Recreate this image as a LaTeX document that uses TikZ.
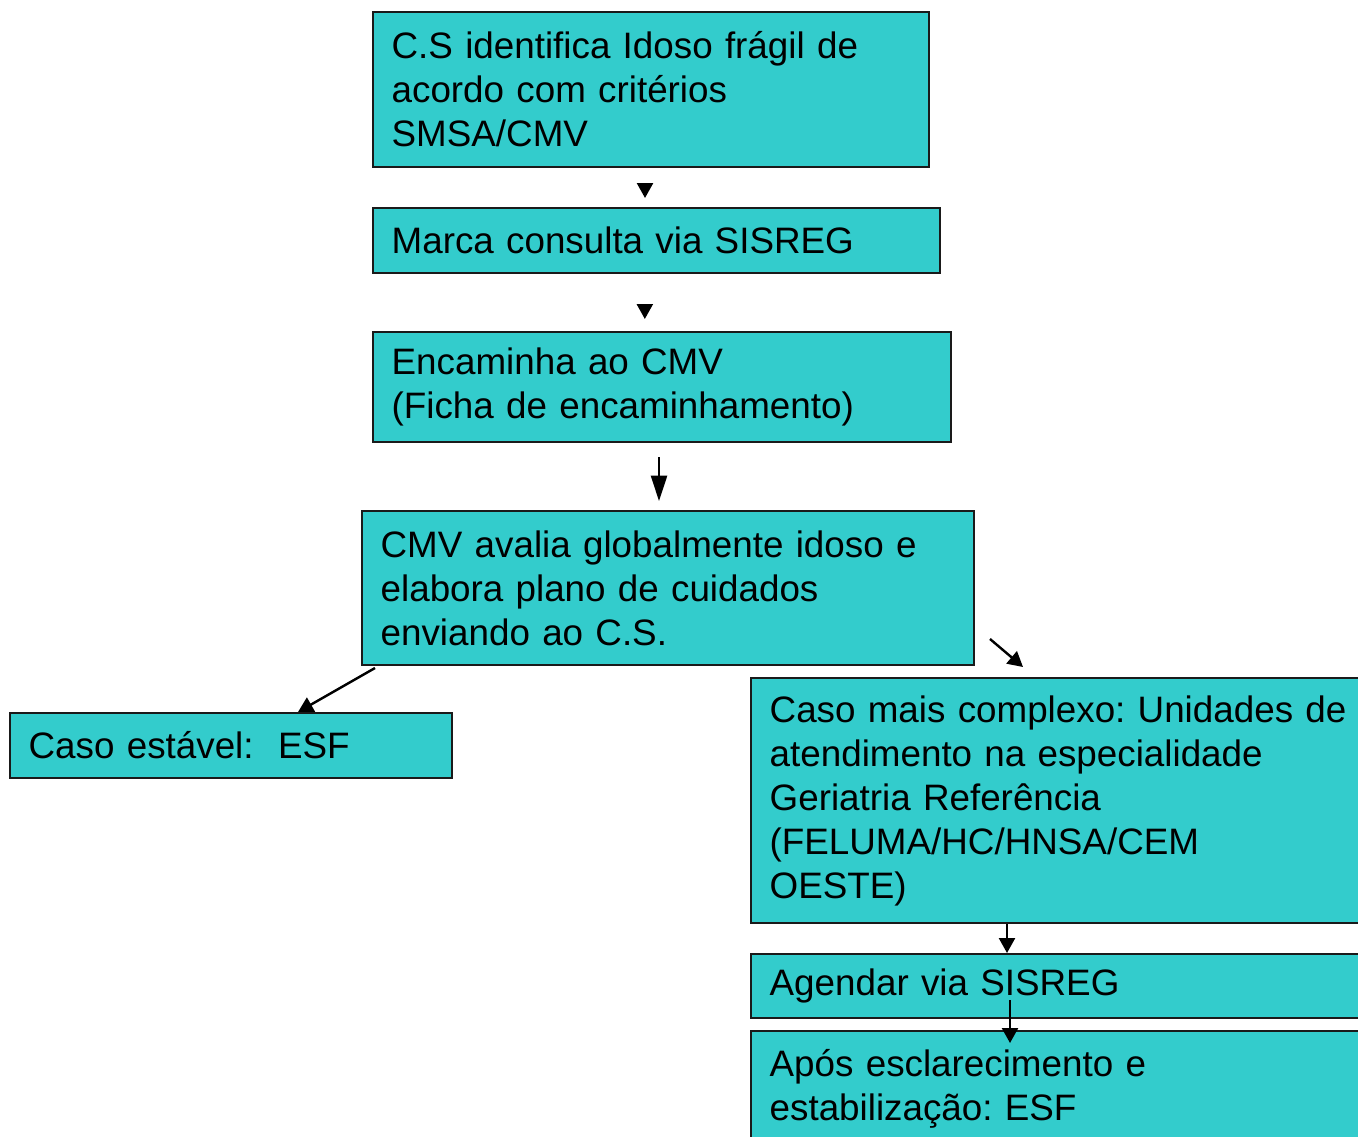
\documentclass[tikz,border=0pt]{standalone}
\usepackage{fontspec}
\setmainfont{Liberation Sans}
\usetikzlibrary{arrows.meta,calc}
\definecolor{BoxCyan}{HTML}{33CCCC}
\definecolor{EdgeGray}{HTML}{1A1A1A}
\frenchspacing

\begin{document}
\begin{tikzpicture}[x=0.75pt,y=-0.75pt,
    every node/.style={font=\fontsize{27.6pt}{33pt}\selectfont},
    stepbox/.style={draw=EdgeGray,fill=BoxCyan,line width=1.5pt,anchor=north west,align=left,inner xsep=14pt,inner ysep=0pt},
    arr/.style={-{Triangle[length=11.25pt,width=12pt]},line width=1.8pt,black},
    longarr/.style={-{Triangle[length=19pt,width=12pt]},line width=1.8pt,black}]
    \useasboundingbox (0,0) rectangle (1358,1136);
    \node[stepbox,text width=389pt,minimum height=116.25pt] (ident) at (372,11) {C.S identifica Idoso frágil de\\acordo com critérios\\SMSA/CMV};
    \node[stepbox,text width=397pt,minimum height=48.75pt] (marca) at (372,207) {Marca consulta via SISREG};
    \node[stepbox,text width=405.5pt,minimum height=82.5pt] (encam) at (372,331) {Encaminha ao CMV\\(Ficha de encaminhamento)};
    \node[stepbox,text width=431pt,minimum height=115.5pt] (avalia) at (361,510) {CMV avalia globalmente idoso e\\elabora plano de cuidados\\enviando ao C.S.};
    \node[stepbox,text width=303.5pt,minimum height=48.75pt] (estavel) at (9,712) {Caso estável:\ \ ESF};
    \node[stepbox,text width=444.5pt,minimum height=183.75pt] (complexo) at (750,677) {Caso mais complexo: Unidades de\\atendimento na especialidade\\Geriatria Referência\\(FELUMA/HC/HNSA/CEM\\OESTE)};
    \node[stepbox,text width=444.5pt,minimum height=48pt] (agendar) at (750,953) {Agendar via SISREG};
    \node[stepbox,text width=444.5pt,minimum height=86.25pt] (apos) at (750,1030) {Após esclarecimento e\\estabilização: ESF};
    % connectors
    \draw[arr] ($(ident.south)+(-6,15)$) -- ($(ident.south)+(-6,30)$);
    \draw[arr] ($(marca.south)+(-11.5,31)$) -- ($(marca.south)+(-11.5,45)$);
    \draw[longarr] ($(encam.south)+(-3,14)$) -- ($(encam.south)+(-3,58)$);
    \draw[arr] ($(avalia.south west)+(14,2)$) -- ($(estavel.north west)+(289,0)$);
    \draw[arr] ($(avalia.south east)+(15,-27)$) -- ($(avalia.south east)+(48,1)$);
    \draw[arr] ($(complexo.south west)+(257,0)$) -- ($(agendar.north west)+(257,0)$);
    \draw[arr] ($(agendar.north west)+(260,47)$) -- ($(apos.north west)+(260,13)$);
  \end{tikzpicture}
\end{document}
